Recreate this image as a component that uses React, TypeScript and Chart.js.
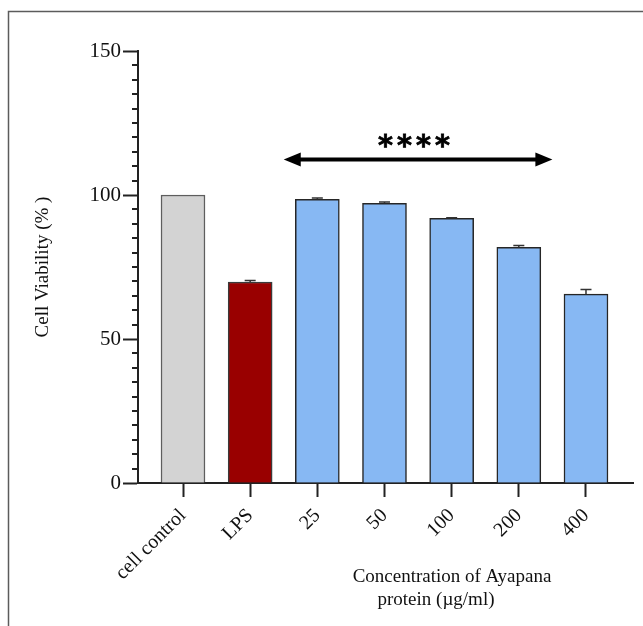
import React, { useEffect, useRef } from 'react';
import { Chart, registerables } from 'chart.js';

Chart.register(...registerables);

// ---- data ----
const categories = ['cell control', 'LPS', '25', '50', '100', '200', '400'];
const viability = [100, 69.8, 98.5, 97.1, 91.9, 81.8, 65.6];
const errors = [0, 0.5, 0.45, 0.45, 0.2, 0.7, 1.6];
const barColors = ['#d3d3d3', '#990000', '#87b8f3', '#87b8f3', '#87b8f3', '#87b8f3', '#87b8f3'];
const barBorders = ['#5e5e5e', '#3a3a3a', '#262626', '#262626', '#262626', '#262626', '#262626'];
const yMajorTicks = [0, 50, 100, 150];
const yMinorStep = 5;
const sigText = '****';
const sigFrom = 1.5;
const sigTo = 5.5;
const sigArrowLevel = 112.3;
const sigTextLevel = 118.6;
const yTitle = 'Cell Viability (% )';
const xTitleLines = ['Concentration of Ayapana', 'protein (µg/ml)'];

const SERIF = '"Liberation Serif", "Times New Roman", serif';

const extrasPlugin = {
  id: 'extras',
  beforeDraw(chart: any) {
    const ctx = chart.ctx;
    ctx.save();
    ctx.strokeStyle = '#5c5c5c';
    ctx.lineWidth = 1.5;
    ctx.beginPath();
    ctx.moveTo(8.5, chart.height);
    ctx.lineTo(8.5, 11.5);
    ctx.lineTo(chart.width, 11.5);
    ctx.stroke();
    ctx.restore();
  },
  afterDatasetsDraw(chart: any) {
    const ctx = chart.ctx;
    const xs = chart.scales.x;
    const ys = chart.scales.y;
    ctx.save();
    // error bars
    ctx.strokeStyle = '#333';
    ctx.lineWidth = 1.5;
    viability.forEach((v, i) => {
      const e = errors[i];
      if (!e) return;
      const x = xs.getPixelForValue(i);
      const yT = ys.getPixelForValue(v + e);
      const yB = ys.getPixelForValue(v);
      ctx.beginPath();
      ctx.moveTo(x, yB);
      ctx.lineTo(x, yT);
      ctx.moveTo(x - 5.5, yT);
      ctx.lineTo(x + 5.5, yT);
      ctx.stroke();
    });
    // minor ticks on y
    const ax = chart.chartArea.left;
    ctx.strokeStyle = '#222';
    ctx.lineWidth = 2;
    for (let v = yMinorStep; v < 150; v += yMinorStep) {
      if (v % 50 === 0) continue;
      const y = Math.round(ys.getPixelForValue(v));
      ctx.beginPath();
      ctx.moveTo(ax - 6, y);
      ctx.lineTo(ax, y);
      ctx.stroke();
    }
    // significance arrow
    const x1 = xs.getPixelForValue(sigFrom);
    const x2 = xs.getPixelForValue(sigTo);
    const ya = ys.getPixelForValue(sigArrowLevel);
    ctx.fillStyle = '#000';
    ctx.strokeStyle = '#000';
    ctx.lineWidth = 4;
    ctx.beginPath();
    ctx.moveTo(x1 + 12, ya);
    ctx.lineTo(x2 - 12, ya);
    ctx.stroke();
    ctx.beginPath();
    ctx.moveTo(x1, ya);
    ctx.lineTo(x1 + 17, ya - 7);
    ctx.lineTo(x1 + 17, ya + 7);
    ctx.closePath();
    ctx.fill();
    ctx.beginPath();
    ctx.moveTo(x2, ya);
    ctx.lineTo(x2 - 17, ya - 7);
    ctx.lineTo(x2 - 17, ya + 7);
    ctx.closePath();
    ctx.fill();
    // stars
    ctx.font = 'bold 100px "DejaVu Sans"';
    const m0 = ctx.measureText('*');
    const w0 = m0.actualBoundingBoxLeft + m0.actualBoundingBoxRight;
    const size = (100 * 14) / w0;
    ctx.font = `bold ${size.toFixed(1)}px "DejaVu Sans"`;
    const m = ctx.measureText('*');
    const cx = (x1 + x2) / 2 - 4;
    const cy = ys.getPixelForValue(sigTextLevel);
    ctx.textAlign = 'left';
    ctx.textBaseline = 'alphabetic';
    const stars = sigText.split('');
    stars.forEach((s, k) => {
      const sx = cx + (k - (stars.length - 1) / 2) * 19;
      const gx = sx - (m.actualBoundingBoxRight - m.actualBoundingBoxLeft) / 2;
      const gy = cy + (m.actualBoundingBoxAscent - m.actualBoundingBoxDescent) / 2;
      ctx.fillText(s, gx, gy);
      ctx.lineWidth = 0.8;
      ctx.strokeText(s, gx, gy);
    });
    // x title
    ctx.font = `19px ${SERIF}`;
    ctx.fillStyle = '#111';
    ctx.textAlign = 'center';
    ctx.fillText(xTitleLines[0], 452, 582);
    ctx.fillText(xTitleLines[1], 436, 605);
    ctx.restore();
  },
};

export default function App() {
  const ref = useRef<HTMLCanvasElement | null>(null);
  useEffect(() => {
    if (!ref.current) return;
    const chart = new Chart(ref.current, {
      type: 'bar',
      data: {
        datasets: [
          {
            data: viability.map((v, i) => ({ x: i, y: v })),
            backgroundColor: barColors,
            borderColor: barBorders,
            borderWidth: 1.5,
            barThickness: 44,
          },
        ],
      },
      options: {
        responsive: false,
        animation: false,
        layout: { padding: { left: 0, top: 51, right: 10, bottom: 0 } },
        plugins: { legend: { display: false }, tooltip: { enabled: false } },
        scales: {
          x: {
            type: 'linear',
            min: -0.67,
            max: 6.7,
            offset: false,
            afterBuildTicks: (scale: any) => {
              scale.ticks = categories.map((_, i) => ({ value: i }));
            },
            afterFit: (scale: any) => {
              scale.height = 626 - 483;
            },
            ticks: {
              autoSkip: false,
              maxRotation: 45,
              minRotation: 45,
              padding: 7,
              color: '#111',
              font: { family: SERIF, size: 20 },
              callback: (value: any) => categories[value] ?? '',
            },
            grid: { offset: false, drawOnChartArea: false, drawTicks: true, tickLength: 14, tickWidth: 2, tickColor: '#222' },
            border: { display: true, color: '#222', width: 2 },
          },
          y: {
            type: 'linear',
            min: 0,
            max: 150,
            afterBuildTicks: (scale: any) => {
              scale.ticks = yMajorTicks.map((v) => ({ value: v }));
            },
            afterFit: (scale: any) => {
              scale.width = 138;
            },
            ticks: {
              padding: 2,
              color: '#111',
              font: { family: SERIF, size: 21 },
            },
            grid: { drawOnChartArea: false, drawTicks: true, tickLength: 15, tickWidth: 2, tickColor: '#222' },
            border: { display: true, color: '#222', width: 2 },
            title: {
              display: true,
              text: yTitle,
              color: '#111',
              font: { family: SERIF, size: 19 },
              padding: { top: 32, bottom: 0 },
            },
          },
        },
      },
      plugins: [extrasPlugin],
    } as any);
    return () => chart.destroy();
  }, []);
  return (
    <canvas
      ref={ref}
      width={643}
      height={626}
      style={{ position: 'fixed', left: 0, top: 0, width: 643, height: 626, display: 'block' }}
    />
  );
}
